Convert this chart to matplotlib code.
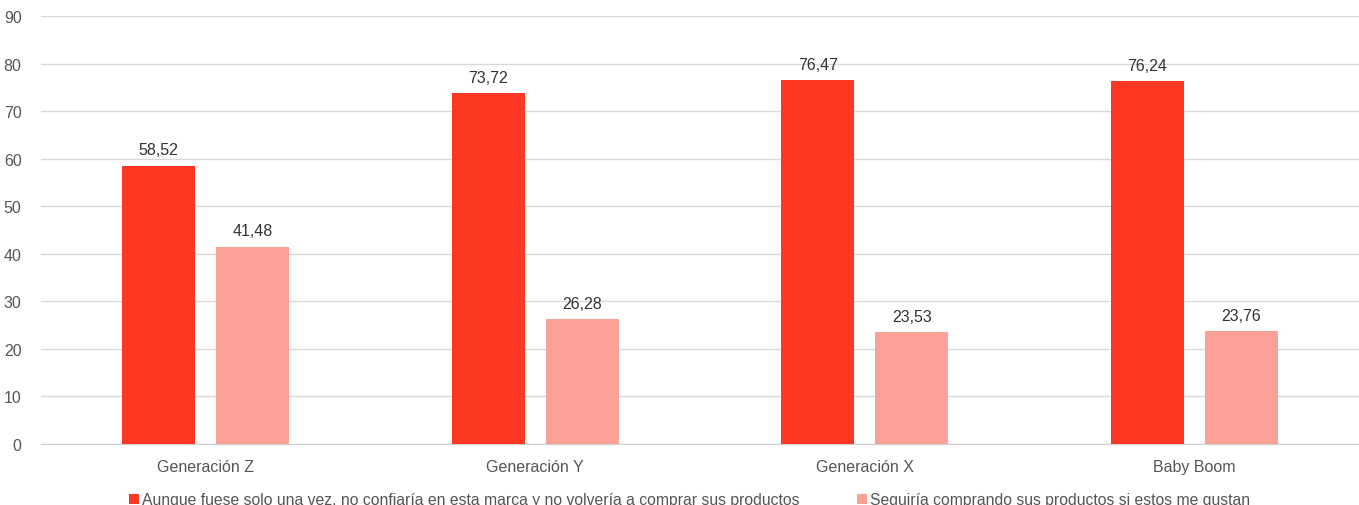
import matplotlib.pyplot as plt
import numpy as np

categories = ['Generación Z', 'Generación Y', 'Generación X', 'Baby Boom']
no_confia = [58.52, 73.72, 76.47, 76.24]
seguiria = [41.48, 26.28, 23.53, 23.76]
series_names = ['Aunque fuese solo una vez, no confiaría en esta marca y no volvería a comprar sus productos',
                'Seguiría comprando sus productos si estos me gustan']

RED = '#fc3722'
PINK = '#fca197'
TXT = '#555555'

plt.rcParams['font.family'] = ['Liberation Sans', 'DejaVu Sans']

fig = plt.figure(figsize=(13.59, 5.06), dpi=100)
ax = fig.add_axes([41 / 1359, 61 / 506, 1318 / 1359, 428 / 506])

x = np.arange(len(categories))
w = 0.222
off = 0.143
b1 = ax.bar(x - off, no_confia, w, color=RED, label=series_names[0], zorder=3)
b2 = ax.bar(x + off, seguiria, w, color=PINK, label=series_names[1], zorder=3)

for bars in (b1, b2):
    for rect in bars:
        v = rect.get_height()
        ax.annotate(f'{v:.2f}'.replace('.', ','), (rect.get_x() + rect.get_width() / 2, v),
                    xytext=(0, 6), textcoords='offset points', ha='center', va='bottom',
                    fontsize=11.5, color='#333333')

ax.set_xlim(-0.5, len(categories) - 0.5)
ax.set_ylim(0, 90)
ax.set_yticks(range(0, 91, 10))
ax.set_xticks(x)
ax.set_xticklabels(categories)
ax.tick_params(axis='both', length=0, labelsize=11.5, colors=TXT)
ax.tick_params(axis='x', pad=11)
ax.tick_params(axis='y', pad=14)
ax.grid(axis='y', color='#d9d9d9', linewidth=1, zorder=0)
for s in ['top', 'right', 'left']:
    ax.spines[s].set_visible(False)
ax.spines['bottom'].set_color('#d0d0d0')

fig.legend(loc='center', bbox_to_anchor=(0.5075, 5 / 506), ncol=2, frameon=False,
           fontsize=11.3, handlelength=0.6, handleheight=0.6, handletextpad=0.2,
           columnspacing=3.7, labelcolor=TXT)

fig.savefig('out.png', dpi=100)
